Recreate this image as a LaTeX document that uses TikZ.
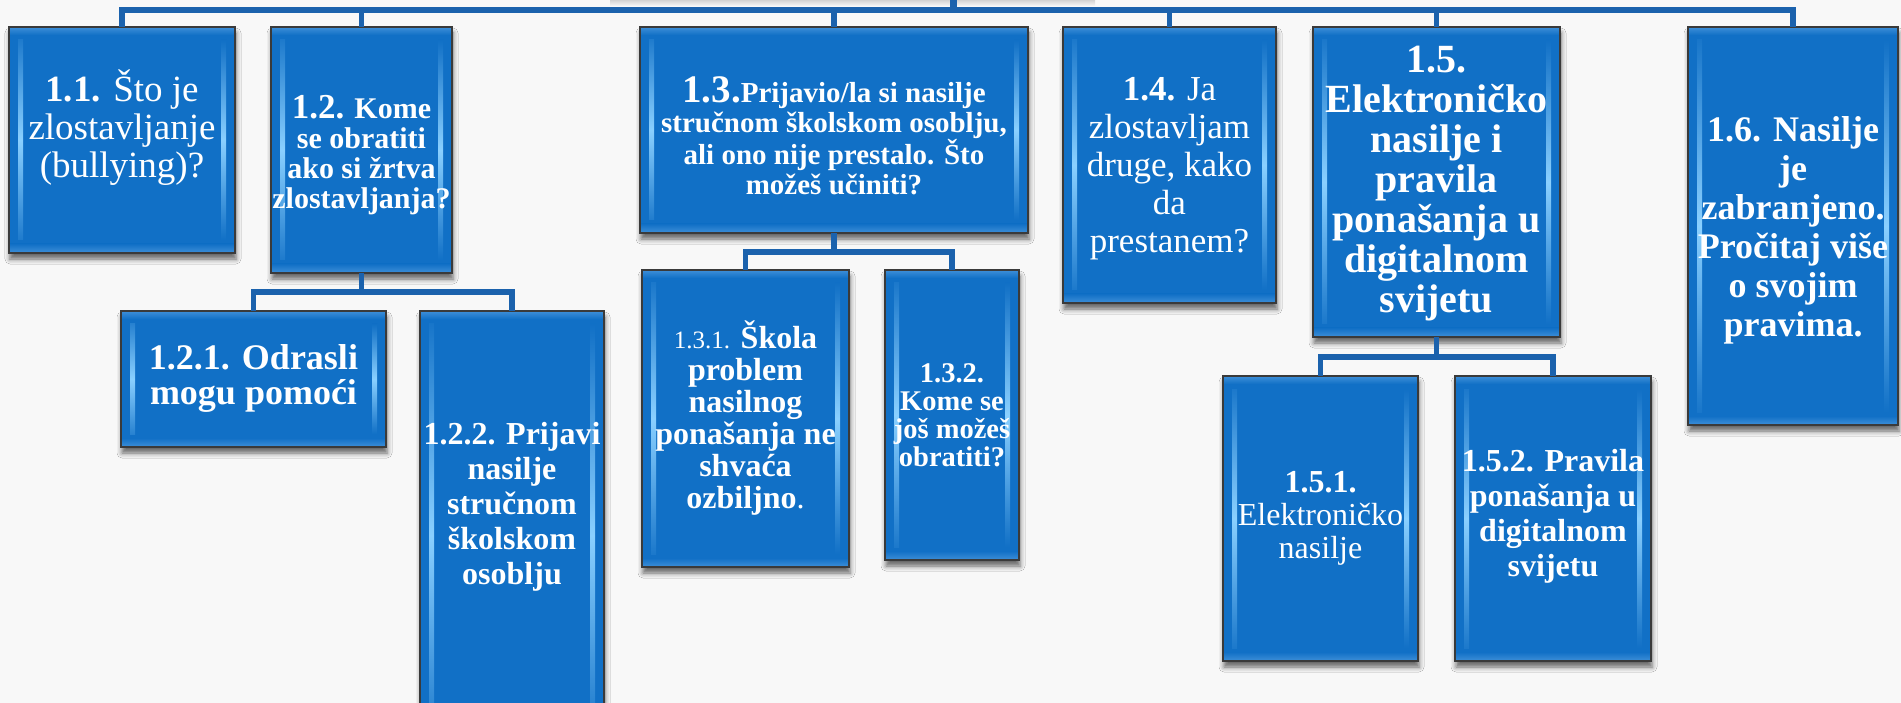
\documentclass[tikz,border=0pt]{standalone}
\usepackage{fontspec}
\setmainfont{Liberation Serif}
\usetikzlibrary{shadows.blur}
\definecolor{bgc}{HTML}{F8F8F8}
\definecolor{boxblue}{HTML}{1170C6}
\definecolor{bevel}{HTML}{8AD0FF}
\definecolor{rim}{HTML}{3E8FD8}
\definecolor{edge}{HTML}{3A3A3A}
\definecolor{conn}{HTML}{1B62AD}
\newcommand\fsz[2]{\fontsize{#1}{#2}\selectfont}
\tikzset{
 orgbox/.style={rectangle, fill=boxblue, draw=edge, line width=2pt, inner sep=0pt, outer sep=0pt,
   blur shadow={shadow xshift=1pt, shadow yshift=-6pt, shadow blur radius=5pt, shadow opacity=60},
   path picture={
     \shade[top color=boxblue, bottom color=boxblue, middle color=bevel]
       ([xshift=9pt,yshift=-13pt]path picture bounding box.north west) rectangle ([xshift=14pt,yshift=13pt]path picture bounding box.south west);
     \shade[top color=boxblue, bottom color=boxblue, middle color=bevel]
       ([xshift=-14pt,yshift=-13pt]path picture bounding box.north east) rectangle ([xshift=-9pt,yshift=13pt]path picture bounding box.south east);
     \shade[top color=rim, bottom color=boxblue]
       (path picture bounding box.north west) rectangle ([yshift=-8pt]path picture bounding box.north east);
     \shade[top color=boxblue, bottom color=rim]
       ([yshift=9pt]path picture bounding box.south west) rectangle (path picture bounding box.south east);
   }},
 lbl/.style={text=white, align=center, inner sep=0pt},
 link/.style={draw=conn, line width=5.5pt},
}
\begin{document}
\begin{tikzpicture}[x=1pt,y=-1pt]
\useasboundingbox (0,0) rectangle (1901,703);
\clip (0,0) rectangle (1901,703);
\fill[bgc] (0,0) rectangle (1901,703);
\shade[top color=gray!35, bottom color=bgc] (610,0) rectangle (1095,6);

% top level boxes
\node[orgbox, minimum width=226pt, minimum height=226pt] (b11) at (122,140) {};
\node[orgbox, minimum width=181pt, minimum height=246pt] (b12) at (361.5,150) {};
\node[orgbox, minimum width=388pt, minimum height=206pt] (b13) at (834,130) {};
\node[orgbox, minimum width=213pt, minimum height=276pt] (b14) at (1169.5,165) {};
\node[orgbox, minimum width=247pt, minimum height=310pt] (b15) at (1436.5,182) {};
\node[orgbox, minimum width=210pt, minimum height=398pt] (b16) at (1793,226) {};
% second level
\node[orgbox, minimum width=265pt, minimum height=136pt] (b121) at (253.5,379) {};
\node[orgbox, minimum width=184pt, minimum height=449pt] (b122) at (512,535.5) {};
\node[orgbox, minimum width=207pt, minimum height=297pt] (b131) at (745.5,418.5) {};
\node[orgbox, minimum width=134pt, minimum height=290pt] (b132) at (952,415) {};
\node[orgbox, minimum width=195pt, minimum height=285pt] (b151) at (1320.5,518.5) {};
\node[orgbox, minimum width=196pt, minimum height=285pt] (b152) at (1553,518.5) {};

% connectors
\coordinate (root) at (953,-4);
\coordinate (bus) at (953,10);
\coordinate (j12) at (361.5,292);
\coordinate (j13) at (834,252);
\coordinate (j15) at (1436.5,357);
\draw[link, line width=7pt] (root) -- (bus);
\draw[link] (bus) -| (b11.north);
\draw[link] (bus) -| (b12.north);
\draw[link] (bus) -| (b13.north);
\draw[link] (bus) -| (b14.north);
\draw[link] (bus) -| (b15.north);
\draw[link] (bus) -| (b16.north);
\draw[link] (b12.south) -- (j12) -| (b121.north);
\draw[link] (j12) -| (b122.north);
\draw[link] (b13.south) -- (j13) -| (b131.north);
\draw[link] (j13) -| (b132.north);
\draw[link] (b15.south) -- (j15) -| (b151.north);
\draw[link] (j15) -| (b152.north);

% labels
\node[lbl, font=\fsz{37}{38}] (t11) at (122,128) {{\bfseries 1.1.} Što je\\zlostavljanje\\(bullying)?};
\node[lbl, font=\fsz{30}{30}\bfseries] (t12) at (361.5,155) {{\fsz{35}{30}1.2.} Kome\\se obratiti\\ako si žrtva\\zlostavljanja?};
\node[lbl, font=\fsz{29}{30}\bfseries] (t13) at (834,136) {{\fsz{39}{30}1.3.}Prijavio/la si nasilje\\stručnom školskom osoblju,\\ali ono nije prestalo. Što\\možeš učiniti?};
\node[lbl, font=\fsz{35}{38}] (t14) at (1169.5,169) {{\bfseries 1.4.} Ja\\zlostavljam\\druge, kako\\da\\prestanem?};
\node[lbl, font=\fsz{40}{40}\bfseries] (t15) at (1436.5,184) {1.5.\\Elektroničko\\nasilje i\\pravila\\ponašanja u\\digitalnom\\svijetu};
\node[lbl, font=\fsz{36}{39}\bfseries] (t16) at (1793,230) {1.6. Nasilje\\je\\zabranjeno.\\Pročitaj više\\o svojim\\pravima.};
\node[lbl, font=\fsz{36}{35}\bfseries] (t121) at (253.5,378) {1.2.1. Odrasli\\mogu pomoći};
\node[lbl, font=\fsz{32}{35}\bfseries] (t122) at (512,507) {1.2.2. Prijavi\\nasilje\\stručnom\\školskom\\osoblju};
\node[lbl, font=\fsz{32}{32}\bfseries] (t131) at (745.5,418) {{\mdseries\fsz{25}{32}1.3.1.} Škola\\problem\\nasilnog\\ponašanja ne\\shvaća\\ozbiljno{\mdseries .}};
\node[lbl, font=\fsz{28.5}{28}\bfseries] (t132) at (952,415) {1.3.2.\\Kome se\\još možeš\\obratiti?};
\node[lbl, font=\fsz{32}{33}] (t151) at (1320.5,518) {{\bfseries 1.5.1.}\\Elektroničko\\nasilje};
\node[lbl, font=\fsz{32}{35}\bfseries] (t152) at (1553,516) {1.5.2. Pravila\\ponašanja u\\digitalnom\\svijetu};
\end{tikzpicture}
\end{document}
